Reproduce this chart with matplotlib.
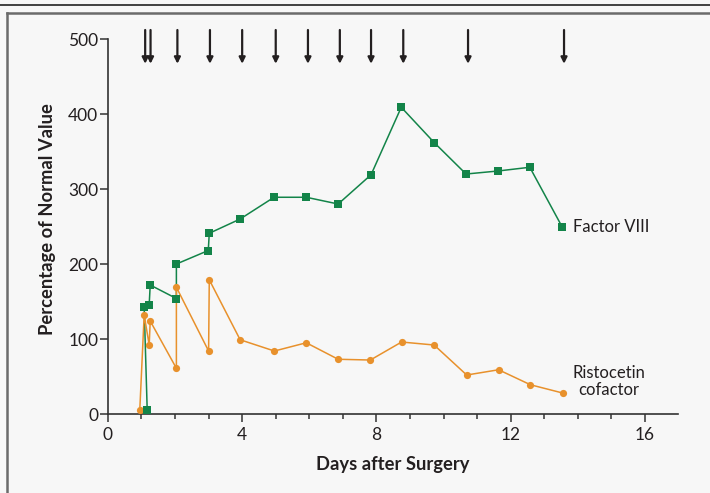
import numpy as np
import matplotlib
matplotlib.use("Agg")
import matplotlib.pyplot as plt
from matplotlib.lines import Line2D

plt.rcParams['font.family'] = ['Lato', 'DejaVu Sans']

# Données
jours_f8 = [1.17, 1.08, 1.23, 1.26, 2.04, 2.04, 2.99, 3.02, 3.94, 4.95, 5.91, 6.86,
            7.84, 8.74, 9.72, 10.67, 11.62, 12.57, 13.54]
facteur_8 = [6, 143, 146, 172, 154, 200, 218, 241, 260, 289, 289, 280,
             319, 409, 362, 320, 324, 329, 249]

jours_rc = [0.95, 1.08, 1.23, 1.26, 2.04, 2.04, 3.00, 3.02, 3.94, 4.96, 5.91, 6.86,
            7.82, 8.75, 9.72, 10.69, 11.64, 12.59, 13.55]
ristocetine = [6, 132, 92, 124, 61, 169, 84, 179, 99, 84, 95, 73,
               72, 96, 92, 52, 59, 39, 28]

# Perfusions (flèches en haut)
jours_perfusion = [1.11, 1.27, 2.07, 3.04, 4.0, 5.0, 5.96, 6.91, 7.84, 8.80, 10.73, 13.59]

vert = '#138449'
orange = '#e8912c'
fond = '#f7f7f7'
gris = '#333333'
texte = '#231f20'

fig = plt.figure(figsize=(7.1, 4.93), dpi=100, facecolor=fond)
ax = fig.add_axes([0.152, 0.1602, 0.8036, 0.7911])
ax.set_facecolor(fond)

# Cadre
fig.add_artist(Line2D([0, 1], [1 - 5/493, 1 - 5/493], color='#222222', lw=1.2,
                      transform=fig.transFigure))
fig.add_artist(Line2D([6.5/710, 1], [1 - 13/493, 1 - 13/493], color='#6b6b6b', lw=1.8,
                      transform=fig.transFigure))
fig.add_artist(Line2D([6.5/710, 6.5/710], [0, 1 - 13/493], color='#6b6b6b', lw=1.8,
                      transform=fig.transFigure))

ax.plot(jours_f8, facteur_8, color=vert, lw=1.1, zorder=2)
ax.plot(jours_rc, ristocetine, color=orange, lw=1.1, marker='o', ms=5.2,
        markeredgewidth=0, zorder=3)
ax.plot(jours_f8, facteur_8, ls='none', color=vert, marker='s', ms=5.2,
        markeredgewidth=0, zorder=4)

for j in jours_perfusion:
    ax.annotate('', xy=(j, 467), xytext=(j, 512),
                arrowprops=dict(arrowstyle='-|>', color=texte, lw=1.6,
                                mutation_scale=9, shrinkA=0, shrinkB=0),
                annotation_clip=False)

ax.text(13.87, 249, 'Factor VIII', fontsize=12, color=texte,
        va='center', ha='left')
ax.text(14.93, 43, 'Ristocetin\ncofactor', fontsize=12, color=texte,
        va='center', ha='center', linespacing=1.05)

ax.set_xlim(0, 17)
ax.set_ylim(0, 520)
ax.spines['top'].set_visible(False)
ax.spines['right'].set_visible(False)
ax.spines['left'].set_bounds(0, 500)
for s in ['left', 'bottom']:
    ax.spines[s].set_color(gris)
    ax.spines[s].set_linewidth(1.2)

ax.set_xticks([0, 4, 8, 12, 16])
ax.set_xticks(np.arange(0, 17, 1), minor=True)
ax.set_yticks([0, 100, 200, 300, 400, 500])
ax.tick_params(axis='x', which='major', length=6, width=1.1, color=gris,
               labelsize=12.5, pad=3.5, labelcolor=texte)
ax.tick_params(axis='x', which='minor', length=3.8, width=1.1, color=gris)
ax.tick_params(axis='y', length=6, width=1.1, color=gris, labelsize=12.5,
               pad=1, labelcolor=texte)

ax.set_xlabel('Days after Surgery', fontsize=13.2, fontweight='bold',
              color=texte, labelpad=9)
ax.set_ylabel('Percentage of Normal Value', fontsize=13.2, fontweight='bold',
              color=texte, labelpad=9)

fig.savefig('out.png', dpi=100, facecolor=fond)
